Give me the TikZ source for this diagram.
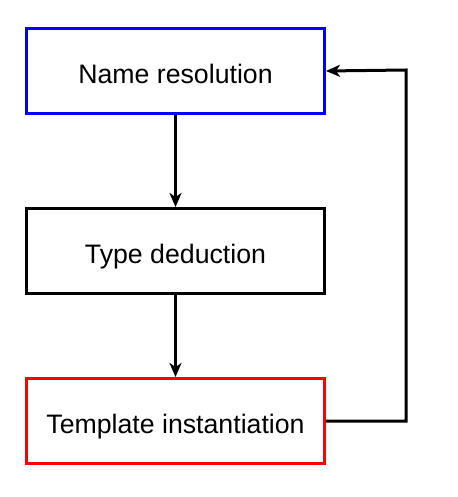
\documentclass[tikz,border=0pt]{standalone}
\usepackage{fontspec}
\setmainfont{Liberation Sans}
\usetikzlibrary{arrows.meta}
\begin{document}
\begin{tikzpicture}[x=1pt,y=-1pt,
  box/.style={draw,line width=3pt,minimum width=298pt,minimum height=85pt,inner sep=0pt,text height=25pt,text depth=0pt,font=\fontsize{26.7}{32}\selectfont},
  conn/.style={line width=3pt,-{Stealth[length=14pt,width=12pt,inset=4pt]}}]
\useasboundingbox (0,0) rectangle (457,497);
\fill[white] (0,0) rectangle (457,497);
\node[box,draw=blue] (nr) at (175.5,71) {Name resolution};
\node[box] (td) at (175.5,251) {Type deduction};
\node[box,draw=red] (ti) at (175.5,421) {Template instantiation};
\coordinate (c1) at (406,421);
\coordinate (c2) at (406,70);
\draw[conn] (nr) -- (td);
\draw[conn] (td) -- (ti);
\draw[conn] (ti.east) -- (c1) -- (c2) -- (nr.east);
\end{tikzpicture}
\end{document}
